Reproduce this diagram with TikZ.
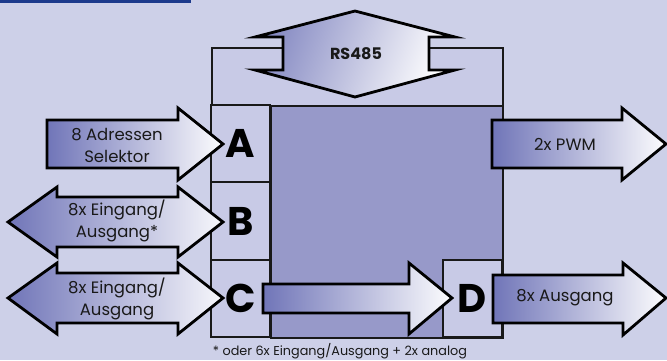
\documentclass[tikz,border=0pt]{standalone}
\usepackage{fontspec}
\setmainfont{Poppins}
\definecolor{bgcol}{RGB}{205,208,232}
\definecolor{barcol}{RGB}{28,58,140}
\definecolor{panelcol}{RGB}{151,153,201}
\definecolor{cellcol}{RGB}{200,202,230}
\definecolor{shadeblue}{RGB}{112,117,184}
\definecolor{inkcol}{RGB}{25,25,25}
\begin{document}
\begin{tikzpicture}[x=1pt,y=-1pt,
  frameline/.style={draw=inkcol,line width=1.8pt},
  cell/.style={frameline,fill=cellcol,minimum width=59pt,minimum height=77.3pt,
    inner sep=0pt},
  letter/.style={font=\fontsize{40}{40}\selectfont\bfseries,text=black,inner sep=0pt},
  blockarrow/.style={draw=black,line width=2.8pt,line join=miter},
  label/.style={align=center,font=\fontsize{16.5}{22}\selectfont,text=inkcol},
]
% canvas
\fill[bgcol] (0,0) rectangle (667,360);
\useasboundingbox (0,0) rectangle (667,360);
\fill[barcol] (0,0) rectangle (191,2.5);

% module frame
\node[frameline,fill=cellcol,minimum width=291pt,minimum height=58pt,anchor=north west,inner sep=0pt]
  (top) at (211,47) {};
\node[frameline,fill=panelcol,minimum width=232pt,minimum height=232pt,anchor=north west,inner sep=0pt]
  (core) at (270,105) {};
\node[cell] (A) at (240.5,143.7) {};
\node[cell] (B) at (240.5,221) {};
\node[cell] (C) at (240.5,298.3) {};
\node[cell] (D) at (472.5,298.3) {};

% RS485 bus connector
\draw[blockarrow,left color=shadeblue!85,right color=white,shading angle=70]
  (355,11) -- (455,37) -- (429,37) -- (429,70) -- (455,70) -- (355,97)
  -- (255,70) -- (283,70) -- (283,37) -- (255,37) -- cycle;
\node[font=\fontsize{16}{16}\selectfont\bfseries,text=inkcol] (rs) at (356,54) {RS485};

% port A: address selector input
\draw[blockarrow,left color=shadeblue,right color=white!95!cellcol]
  (47,120) -- (178,120) -- (178,108) -- (223,144) -- (178,180) -- (178,168) -- (47,168) -- cycle;
\node[label] (la) at (117,145) {8 Adressen\\Selektor};

% port B: bidirectional I/O
\draw[blockarrow,left color=shadeblue,middle color=white!95!cellcol,right color=white!85!cellcol]
  (8,222) -- (57,187) -- (57,197) -- (178,197) -- (178,187) -- (223,222)
  -- (178,257) -- (178,247) -- (57,247) -- (57,257) -- cycle;
\node[label] (lb) at (117,221) {8x Eingang/\\Ausgang*};

% port C: bidirectional I/O
\draw[blockarrow,left color=shadeblue,middle color=white!95!cellcol,right color=white!85!cellcol]
  (8,298) -- (57,263) -- (57,273) -- (178,273) -- (178,263) -- (223,298)
  -- (178,334) -- (178,323) -- (57,323) -- (57,334) -- cycle;
\node[label] (lc) at (117,299) {8x Eingang/\\Ausgang};

% internal link C to D
\draw[blockarrow,left color=shadeblue,right color=white!95!cellcol]
  (263,284) -- (409,284) -- (409,263) -- (452,298) -- (409,334) -- (409,313) -- (263,313) -- cycle;

% PWM output
\draw[blockarrow,left color=shadeblue,right color=white!95!cellcol]
  (492,120) -- (622,120) -- (622,108) -- (666,144) -- (622,180) -- (622,168) -- (492,168) -- cycle;
\node[label] (lp) at (565,144) {2x PWM};

% port D: outputs
\draw[blockarrow,left color=shadeblue,right color=white!95!cellcol]
  (493,275) -- (623,275) -- (623,263) -- (666,298) -- (623,335) -- (623,323) -- (493,323) -- cycle;
\node[label] (ld) at (565,298) {8x Ausgang};

% port letters, set above the arrow tips
\node[letter] at (A) {A};
\node[letter] at (B) {B};
\node[letter] at (C) {C};
\node[letter] at (D) {D};

% footnote
\node[font=\fontsize{12.8}{12.8}\selectfont,text=inkcol] (note) at (340,351)
  {* oder 6x Eingang/Ausgang + 2x analog};
\end{tikzpicture}
\end{document}
